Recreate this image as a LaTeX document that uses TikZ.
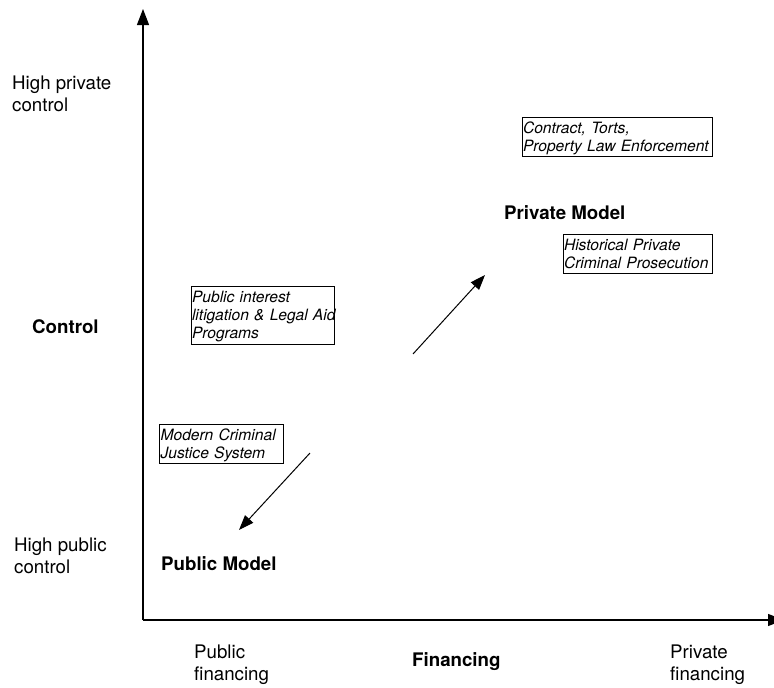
\documentclass[tikz,border=0pt]{standalone}
\usepackage{fontspec}
\setmainfont{TeX Gyre Heros}
\usetikzlibrary{arrows.meta}
\begin{document}
\begin{tikzpicture}[x=1pt,y=-1pt,
  lbl/.style={inner sep=0pt, anchor=base west, align=left, font=\fontsize{18.7}{22}\selectfont},
  blbl/.style={inner sep=0pt, anchor=base west, font=\fontsize{18.7}{22}\selectfont\bfseries},
  casebox/.style={draw, line width=1pt, anchor=north west, align=left,
    inner xsep=0.8pt, inner ysep=2.5pt, text height=13pt,
    font=\fontsize{15.6}{18}\selectfont\itshape},
  axis/.style={line width=1.2pt, -{Triangle[length=16pt,width=12pt]}},
  trend/.style={line width=1pt, -{Triangle[length=15pt,width=11pt]}}]
\useasboundingbox (0,0) rectangle (774,688);

% axes
\coordinate (origin) at (143,620);
\coordinate (ytip) at (143,9);
\coordinate (xtip) at (784,620);
\draw[axis] (origin) -- (ytip);
\draw[axis] (origin) -- (xtip);

% axis labels (two-line labels are placed by the baseline of their last line)
\node[lbl] (hipriv) at (12,111) {High private\\control};
\node[lbl] (hipub) at (14,573.5) {High public\\control};
\node[blbl] (ctrl) at (32,333) {Control};
\node[lbl] (pubfin) at (194,680) {Public\\financing};
\node[blbl] (fin) at (412,666.7) {Financing};
\node[lbl] (privfin) at (670,680) {Private\\financing};

% models
\node[blbl] (privmodel) at (504,219) {Private Model};
\node[blbl] (pubmodel) at (161,570) {Public Model};

% examples
\node[casebox, text width=189pt, text depth=20.4pt] (contract) at (521.7,117.3)
  {Contract, Torts,\\Property Law Enforcement};
\node[casebox, text width=148pt, text depth=21pt] (histpriv) at (562.7,234.3)
  {Historical Private\\Criminal Prosecution};
\node[casebox, text width=142pt, text depth=40pt] (pil) at (190.7,286)
  {Public interest\\\mbox{litigation \& Legal Aid}\\Programs};
\node[casebox, text width=122.4pt, text depth=20.4pt] (modern) at (159.3,424.3)
  {Modern Criminal\\Justice System};

% trend arrows
\coordinate (upfrom) at (413,354);
\coordinate (upto) at (485,275);
\coordinate (downfrom) at (310,453);
\coordinate (downto) at (239,530);
\draw[trend] (upfrom) -- (upto);
\draw[trend] (downfrom) -- (downto);
\end{tikzpicture}
\end{document}
